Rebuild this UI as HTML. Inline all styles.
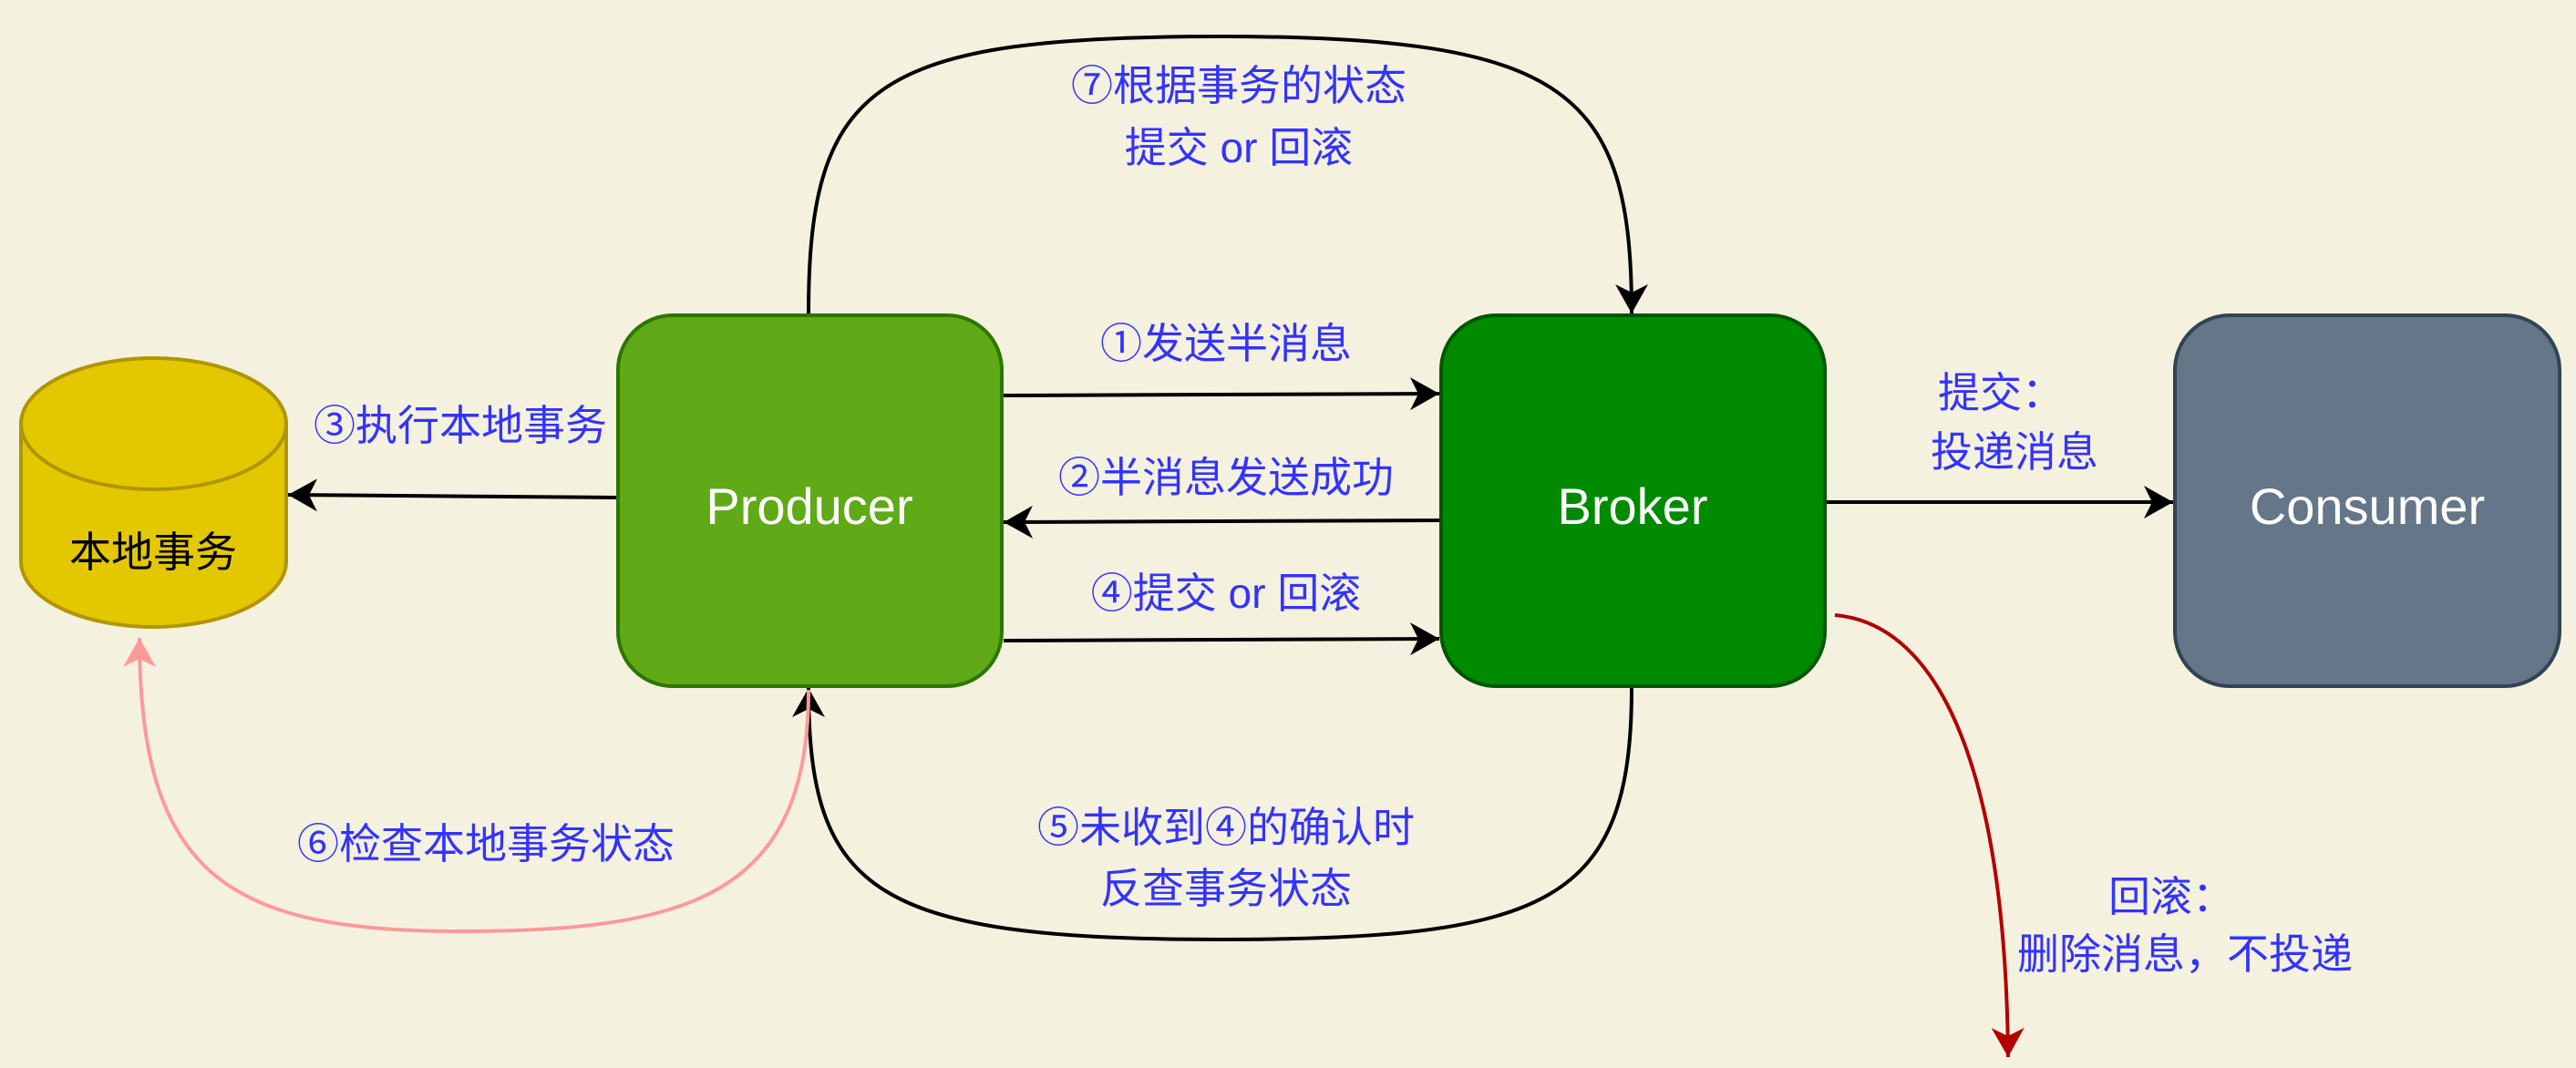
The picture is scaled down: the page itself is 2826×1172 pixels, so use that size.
<!DOCTYPE html>
<html><head><meta charset="utf-8"><style>
html,body{margin:0;padding:0;background:#f4f1df;}
svg{display:block;}
.l{font-family:"Liberation Sans","Noto Sans CJK SC",sans-serif;font-size:46px;fill:#3333ff;text-anchor:middle;}
.n{font-family:"Liberation Sans",sans-serif;font-size:56px;fill:#fff;text-anchor:middle;}
</style></head><body>
<svg width="2826" height="1172" viewBox="0 0 2826 1172" xmlns="http://www.w3.org/2000/svg">
<defs>
<marker id="a" markerUnits="userSpaceOnUse" markerWidth="40" markerHeight="40" refX="32" refY="20" orient="auto"><path d="M0,2 L32,20 L0,38 L9,20 Z" fill="#000"/></marker>
<marker id="p" markerUnits="userSpaceOnUse" markerWidth="40" markerHeight="40" refX="32" refY="20" orient="auto"><path d="M0,2 L32,20 L0,38 L9,20 Z" fill="#ff9999"/></marker>
<marker id="r" markerUnits="userSpaceOnUse" markerWidth="40" markerHeight="40" refX="32" refY="20" orient="auto"><path d="M0,2 L32,20 L0,38 L9,20 Z" fill="#b20000"/></marker>
</defs>
<rect width="2826" height="1172" fill="#f4f1df"/>
<!-- cylinder -->
<path d="M23,465 A145.5,72 0 0 1 314,465 L314,616 A145.5,72 0 0 1 23,616 Z" fill="#e3c800" stroke="#b09500" stroke-width="4"/>
<path d="M23,465 A145.5,72 0 0 0 314,465" fill="none" stroke="#b09500" stroke-width="4"/>
<text x="168" y="622" font-family="Liberation Sans,Noto Sans CJK SC,sans-serif" font-size="46" text-anchor="middle" fill="#000">本地事务</text>
<!-- boxes -->
<rect x="678" y="346" width="421" height="407" rx="60" fill="#60a917" stroke="#2d7600" stroke-width="4"/>
<text class="n" x="888" y="575">Producer</text>
<rect x="1581" y="346" width="421" height="407" rx="60" fill="#008a00" stroke="#005700" stroke-width="4"/>
<text class="n" x="1791" y="575">Broker</text>
<rect x="2386" y="346" width="422" height="407" rx="60" fill="#647687" stroke="#314354" stroke-width="4"/>
<text class="n" x="2597" y="575">Consumer</text>
<!-- straight arrows -->
<g stroke="#000" stroke-width="4" fill="none">
<line x1="1101" y1="434" x2="1579" y2="432" marker-end="url(#a)"/>
<line x1="1579" y1="571" x2="1101" y2="573" marker-end="url(#a)"/>
<line x1="1101" y1="703" x2="1579" y2="701" marker-end="url(#a)"/>
<line x1="676" y1="546" x2="316" y2="543" marker-end="url(#a)"/>
<line x1="2004" y1="551" x2="2384" y2="551" marker-end="url(#a)"/>
<path d="M887,344 C887,90 960,40 1340,40 C1720,40 1790,100 1790,344" marker-end="url(#a)"/>
<path d="M1790,755 C1790,990 1700,1031 1340,1031 C960,1031 887,980 887,755" marker-end="url(#a)"/>
</g>
<path d="M887,757 C887,980 760,1022 505,1022 C250,1022 153,960 153,700" fill="none" stroke="#ff9999" stroke-width="4" marker-end="url(#p)"/>
<path d="M2013,675 C2130,685 2200,850 2203,1160" fill="none" stroke="#b20000" stroke-width="4" marker-end="url(#r)"/>
<!-- labels -->
<text class="l" x="1345" y="393">①发送半消息</text>
<text class="l" x="1345" y="540">②半消息发送成功</text>
<text class="l" x="1345" y="667">④提交 or 回滚</text>
<text class="l" x="505" y="483">③执行本地事务</text>
<text class="l" x="2195" y="447">提交：</text>
<text class="l" x="2210" y="512">投递消息</text>
<text class="l" x="1359" y="110">⑦根据事务的状态</text>
<text class="l" x="1359" y="178">提交 or 回滚</text>
<text class="l" x="1345" y="924">⑤未收到④的确认时</text>
<text class="l" x="1345" y="991">反查事务状态</text>
<text class="l" x="533" y="942">⑥检查本地事务状态</text>
<text class="l" x="2382" y="1000">回滚：</text>
<text class="l" x="2397" y="1063">删除消息，不投递</text>
</svg>
</body></html>
